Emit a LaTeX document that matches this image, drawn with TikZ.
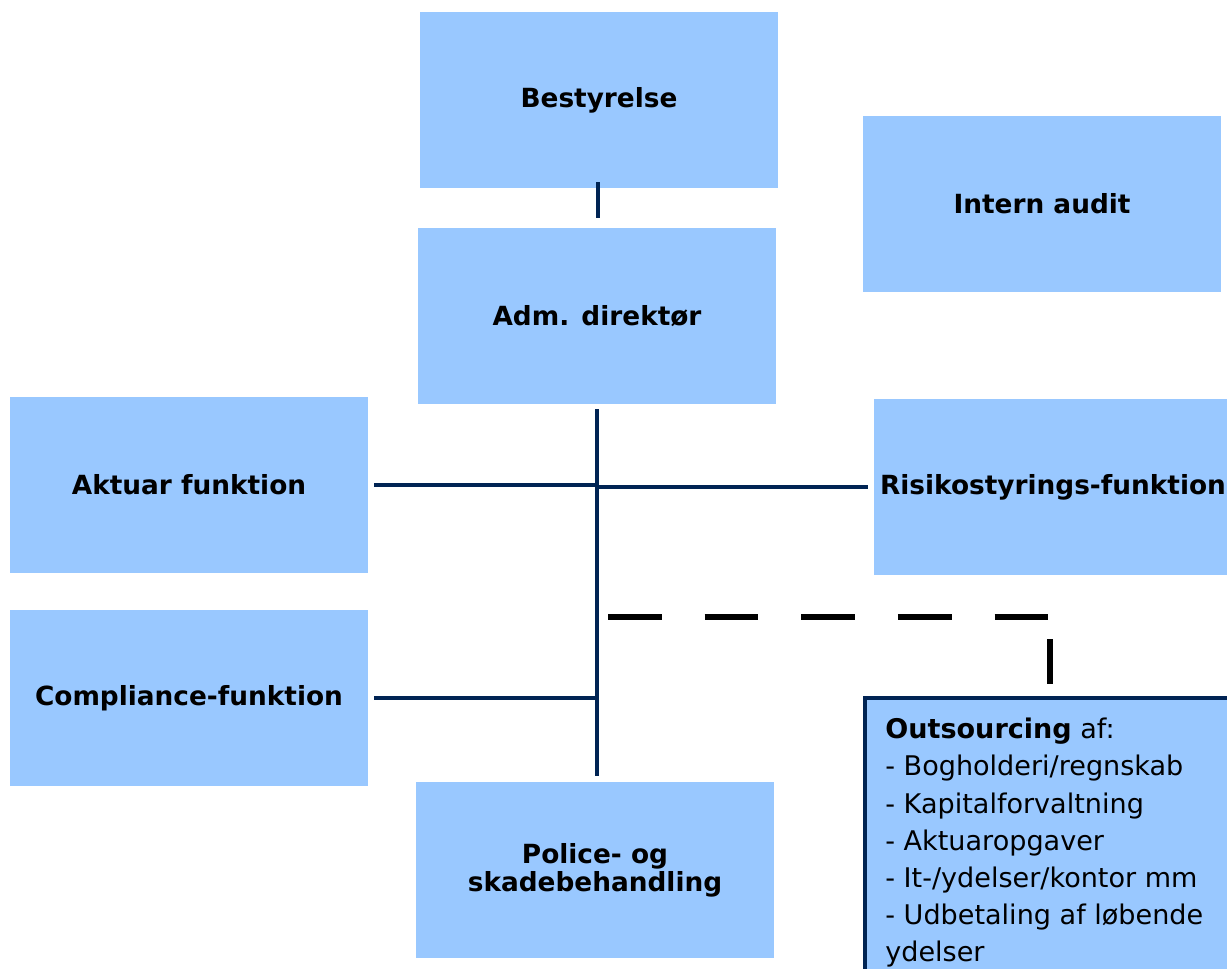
\documentclass[tikz,border=0pt]{standalone}
\usepackage{fontspec}
\setmainfont{DejaVu Sans}
\definecolor{boxblue}{RGB}{153,200,255}
\definecolor{linenavy}{RGB}{0,36,84}
\tikzset{
  orgbox/.style={fill=boxblue, minimum width=7.16cm, minimum height=3.52cm, inner sep=0pt,
    align=center, font=\fontsize{15}{16}\selectfont\bfseries},
  orgline/.style={draw=linenavy, line width=2.4pt},
}
\begin{document}
\begin{tikzpicture}[x=0.02cm, y=-0.02cm] % 1単位 = 1px
  \useasboundingbox (0,0) rectangle (1227,968); % 画像の大きさ
  \node[orgbox] (best) at (599,100) {Bestyrelse};
  \node[orgbox] (audit) at (1042,204) {Intern audit};
  \node[orgbox] (adm) at (597,316) {Adm. direktør};
  \node[orgbox] (aktuar) at (189,485) {Aktuar funktion};
  \node[orgbox] (risiko) at (1053,487) {Risikostyrings-funktion}; % 右端は切れる
  \node[orgbox] (compl) at (189,698) {Compliance-funktion};
  \node[orgbox] (police) at (595,870) {Police- og\\skadebehandling};
  % 外部委託の枠
  \node[draw=linenavy, line width=2pt, fill=boxblue, anchor=north west,
    minimum width=7.6cm, minimum height=6cm] (out) at (863,696) {};
  \node[anchor=north west, align=left, inner sep=0pt, font=\fontsize{15.4}{21.1}\selectfont]
    (outtxt) at (885,718) {\textbf{Outsourcing} af:\\- Bogholderi/regnskab\\- Kapitalforvaltning\\
    - Aktuaropgaver\\- It-/ydelser/kontor mm\\- Udbetaling af løbende\\ydelser};
  % 線
  \draw[orgline, line width=2.8pt, shorten <=-3.4pt, shorten >=5.7pt]
    ([xshift=-0.02cm]best.south) -- ([xshift=-0.02cm]best.south |- adm.north);
  \draw[orgline, shorten <=2.8pt, shorten >=3.4pt] (adm.south) -- (adm.south |- police.north); % 幹
  \draw[orgline, shorten <=3.4pt] (aktuar.east) -- (aktuar.east -| adm.south);
  \draw[orgline, shorten <=3.4pt] (risiko.west) -- (risiko.west -| adm.south);
  \draw[orgline, shorten <=3.4pt] (compl.east) -- (compl.east -| adm.south);
  \coordinate (dstart) at (608,617);
  \coordinate (dcorner) at (1050,617);
  \draw[black, line width=3.4pt, dash pattern=on 30.6pt off 24.4pt on 30.6pt off 24.4pt
    on 30.6pt off 24.4pt on 30.6pt off 24.4pt on 30.6pt off 13.6pt on 25.5pt off 60pt]
    (dstart) -- (dcorner) -- (dcorner |- out.north); % 破線
\end{tikzpicture}
\end{document}
